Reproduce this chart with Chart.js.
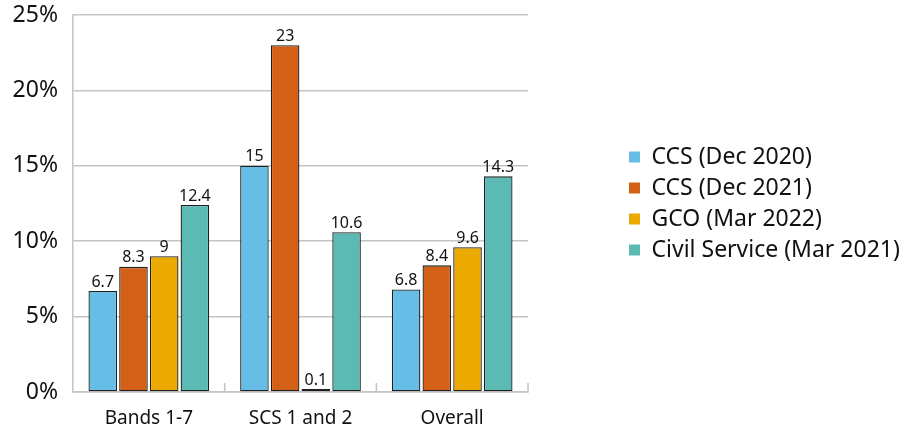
<!DOCTYPE html>
<html>
<head>
<meta charset="utf-8">
<script src="https://cdn.jsdelivr.net/npm/chart.js@4/dist/chart.umd.min.js"></script>
<style>
  html, body { margin: 0; padding: 0; background: #fff; }
  #wrap { width: 905px; height: 432px; position: relative; }
</style>
</head>
<body>
<div id="wrap"><canvas id="staffChart"></canvas></div>
<script>
// Categories and series
const categories = ['Bands 1-7', 'SCS 1 and 2', 'Overall'];
const seriesNames = ['CCS (Dec 2020)', 'CCS (Dec 2021)', 'GCO (Mar 2022)', 'Civil Service (Mar 2021)'];
const ccsDec2020 = [6.7, 15, 6.8];
const ccsDec2021 = [8.3, 23, 8.4];
const gcoMar2022 = [9, 0.1, 9.6];
const civilServiceMar2021 = [12.4, 10.6, 14.3];
const yTicks = [0, 5, 10, 15, 20, 25];
const seriesColors = ['#66BEE6', '#D45F16', '#ECA900', '#5CBAB4'];

const FONT = '"Noto Sans", "DejaVu Sans", sans-serif';
const TEXT = '#111111';
const GRID = '#c4c4c4';

// Value labels above each bar
const barValueLabels = {
    id: 'barValueLabels',
    afterDatasetsDraw(chart) {
        const ctx = chart.ctx;
        ctx.save();
        ctx.font = '16px ' + FONT;
        ctx.fillStyle = TEXT;
        ctx.textAlign = 'center';
        ctx.textBaseline = 'bottom';
        chart.data.datasets.forEach((ds, i) => {
            const meta = chart.getDatasetMeta(i);
            meta.data.forEach((bar, j) => {
                const v = ds.data[j];
                if (v === null || v === undefined) return;
                ctx.fillText(String(v), bar.x, bar.y - 1);
            });
        });
        ctx.restore();
    }
};

// Short tick marks pointing up from the x axis at category boundaries
const categoryTicks = {
    id: 'categoryTicks',
    afterDraw(chart) {
        const x = chart.scales.x;
        const area = chart.chartArea;
        const ctx = chart.ctx;
        const half = (x.getPixelForTick(1) - x.getPixelForTick(0)) / 2;
        ctx.save();
        ctx.strokeStyle = GRID;
        ctx.lineWidth = 1.5;
        for (let i = 0; i < categories.length; i++) {
            const px = x.getPixelForTick(i) + half;
            ctx.beginPath();
            ctx.moveTo(px, area.bottom);
            ctx.lineTo(px, area.bottom - 9);
            ctx.stroke();
        }
        ctx.restore();
    }
};

// Give the legend a fixed column on the right, with a gap from the plot
const legendColumn = {
    id: 'legendColumn',
    beforeInit(chart) {
        const origFit = chart.legend.fit;
        chart.legend.fit = function() {
            origFit.call(this);
            this.width = 377;
        };
    },
    afterLayout(chart) {
        const lg = chart.legend;
        lg.left = 621;
        lg.width = lg.right - lg.left;
        lg.top = chart.chartArea.top;
        lg.bottom = chart.chartArea.bottom;
        lg.height = lg.bottom - lg.top;
    }
};

const datasets = [ccsDec2020, ccsDec2021, gcoMar2022, civilServiceMar2021].map((data, i) => ({
    label: seriesNames[i],
    data: data,
    backgroundColor: seriesColors[i],
    borderColor: '#1f1f1f',
    borderWidth: 1.3,
    borderSkipped: false,
    minBarLength: 3,
    categoryPercentage: 0.81,
    barPercentage: 0.93
}));

const ctx = document.getElementById('staffChart').getContext('2d');
const staffChart = new Chart(ctx, {
    type: 'bar',
    data: {
        labels: categories,
        datasets: datasets
    },
    options: {
        responsive: true,
        maintainAspectRatio: false,
        animation: false,
        layout: {
            padding: { top: 15, left: 0, right: 0, bottom: 0 }
        },
        plugins: {
            legend: {
                position: 'right',
                align: 'center',
                labels: {
                    boxWidth: 11,
                    boxHeight: 11,
                    padding: 8,
                    color: TEXT,
                    font: { family: FONT, size: 23 },
                    generateLabels(chart) {
                        const items = Chart.defaults.plugins.legend.labels.generateLabels(chart);
                        items.forEach(it => {
                            it.strokeStyle = it.fillStyle;
                            it.lineWidth = 0;
                        });
                        return items;
                    }
                }
            },
            tooltip: { enabled: false }
        },
        scales: {
            x: {
                grid: { display: false },
                border: { display: true, color: GRID, width: 1.5 },
                ticks: {
                    color: TEXT,
                    padding: 7,
                    font: { family: FONT, size: 19 }
                },
                afterFit(scale) {
                    scale.height = 40;
                    scale.paddingLeft = 0;
                    scale.paddingRight = 0;
                }
            },
            y: {
                min: 0,
                max: 25,
                afterBuildTicks(scale) {
                    scale.ticks = yTicks.map(v => ({ value: v }));
                },
                grid: { color: GRID, lineWidth: 1.5, drawTicks: false },
                border: { display: true, color: GRID, width: 1.5 },
                ticks: {
                    color: TEXT,
                    padding: 15,
                    font: { family: FONT, size: 23 },
                    callback: v => v + '%'
                },
                afterFit(scale) {
                    scale.width = 73;
                    scale.paddingTop = 0;
                    scale.paddingBottom = 0;
                }
            }
        }
    },
    plugins: [barValueLabels, categoryTicks, legendColumn]
});
</script>
</body>
</html>
